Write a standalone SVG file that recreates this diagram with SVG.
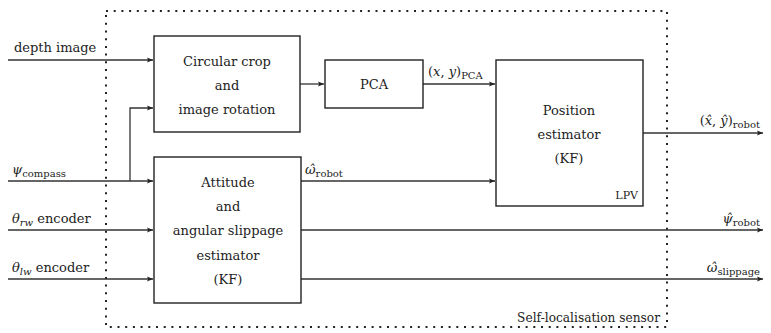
<svg xmlns="http://www.w3.org/2000/svg" width="771" height="333" viewBox="0 0 771 333">
<defs>
<marker id="ah" viewBox="0 0 10 10" refX="10" refY="5" markerWidth="6" markerHeight="6" markerUnits="userSpaceOnUse" orient="auto">
<path d="M0,1 L10,5 L0,9 L2,5 Z" fill="#222"/>
</marker>
<style>
.box{fill:#fff;stroke:#222;stroke-width:1.4}
.ar{fill:none;stroke:#333;stroke-width:1.3;marker-end:url(#ah)}
text{font-family:"DejaVu Serif","Liberation Serif",serif;font-size:13px;fill:#222}
.c{text-anchor:middle}
.r{text-anchor:end}
.m{font-style:italic}
.s{font-size:10px}
</style>
</defs>
<rect id="sensor" x="106" y="11" width="561" height="316" fill="none" stroke="#222" stroke-width="2" stroke-dasharray="2 5.7"/>
<g id="connectors">
<line class="ar" x1="8" y1="60" x2="153" y2="60"/>
<polyline class="ar" points="130,181 130,108 153,108"/>
<line class="ar" x1="8" y1="181" x2="153" y2="181"/>
<line class="ar" x1="8" y1="230" x2="153" y2="230"/>
<line class="ar" x1="8" y1="279" x2="153" y2="279"/>
<line class="ar" x1="300" y1="84" x2="324" y2="84"/>
<line class="ar" x1="423" y1="84" x2="495" y2="84"/>
<line class="ar" x1="301" y1="181" x2="495" y2="181"/>
<line class="ar" x1="643" y1="133" x2="763" y2="133"/>
<line class="ar" x1="301" y1="230" x2="763" y2="230"/>
<line class="ar" x1="301" y1="279" x2="763" y2="279"/>
<text x="14" y="52">depth image</text>
<text x="12" y="174"><tspan class="m">ψ</tspan><tspan class="s" dy="3">compass</tspan></text>
<text x="12" y="223"><tspan class="m">θ</tspan><tspan class="s m" dy="3">rw</tspan><tspan dy="-3"> encoder</tspan></text>
<text x="12" y="272"><tspan class="m">θ</tspan><tspan class="s m" dy="3">lw</tspan><tspan dy="-3"> encoder</tspan></text>
<text x="428" y="76">(<tspan class="m">x</tspan>, <tspan class="m">y</tspan>)<tspan class="s" dy="3">PCA</tspan></text>
<text x="305" y="174"><tspan class="m">ω̂</tspan><tspan class="s" dy="3">robot</tspan></text>
<text x="760" y="125" class="r">(<tspan class="m">x̂</tspan>, <tspan class="m">ŷ</tspan>)<tspan class="s" dy="3">robot</tspan></text>
<text x="760" y="223" class="r"><tspan class="m">ψ̂</tspan><tspan class="s" dy="3">robot</tspan></text>
<text x="760" y="272" class="r"><tspan class="m">ω̂</tspan><tspan class="s" dy="3">slippage</tspan></text>
</g>
<g id="crop">
<rect class="box" x="154" y="36" width="146" height="96"/>
<text class="c" x="227" y="66">Circular crop</text>
<text class="c" x="227" y="90">and</text>
<text class="c" x="227" y="114">image rotation</text>
</g>
<g id="pca">
<rect class="box" x="325" y="60" width="98" height="48"/>
<text class="c" x="374" y="89">PCA</text>
</g>
<g id="position">
<rect class="box" x="496" y="60" width="147" height="146"/>
<text class="c" x="569" y="115">Position</text>
<text class="c" x="569" y="139">estimator</text>
<text class="c" x="569" y="163">(KF)</text>
<text class="r" x="638" y="199" style="font-size:11px">LPV</text>
</g>
<g id="attitude">
<rect class="box" x="154" y="157" width="147" height="146"/>
<text class="c" x="228" y="187">Attitude</text>
<text class="c" x="228" y="211">and</text>
<text class="c" x="228" y="235">angular slippage</text>
<text class="c" x="228" y="260">estimator</text>
<text class="c" x="228" y="284">(KF)</text>
</g>
<text class="r" x="660" y="322" style="font-size:12.2px">Self-localisation sensor</text>
</svg>
